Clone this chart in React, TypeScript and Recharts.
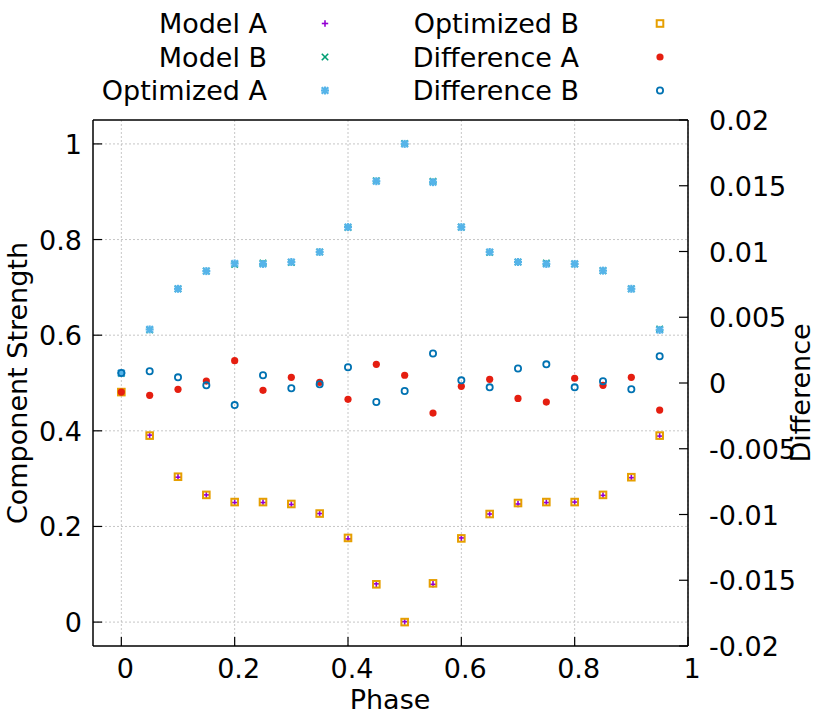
import React from 'react';
import { ComposedChart, Scatter, XAxis, YAxis, CartesianGrid, ReferenceLine } from 'recharts';

const phase = [0, 0.05, 0.1, 0.15, 0.2, 0.25, 0.3, 0.35, 0.4, 0.45, 0.5, 0.55, 0.6, 0.65, 0.7, 0.75, 0.8, 0.85, 0.9, 0.95];

const modelA = [0.48, 0.391, 0.303, 0.266, 0.25, 0.25, 0.246, 0.227, 0.174, 0.08, 0.001, 0.079, 0.176, 0.226, 0.247, 0.25, 0.251, 0.265, 0.302, 0.389];
const modelB = [0.52, 0.611, 0.697, 0.734, 0.748, 0.751, 0.752, 0.774, 0.825, 0.923, 1.001, 0.922, 0.826, 0.773, 0.753, 0.751, 0.749, 0.735, 0.697, 0.613];
const optimizedA = [0.521, 0.612, 0.697, 0.734, 0.75, 0.749, 0.753, 0.774, 0.826, 0.922, 1.0, 0.92, 0.826, 0.774, 0.753, 0.749, 0.749, 0.735, 0.697, 0.611];
const optimizedB = [0.481, 0.39, 0.304, 0.266, 0.251, 0.251, 0.247, 0.227, 0.176, 0.079, 0.0, 0.081, 0.175, 0.226, 0.249, 0.251, 0.251, 0.266, 0.303, 0.39];
const differenceA = [-0.00069, -0.00094, -0.00048, 0.00015, 0.0017, -0.00056, 0.00043, 0.00005, -0.00124, 0.00142, 0.00059, -0.00229, -0.00025, 0.00028, -0.00117, -0.00145, 0.00036, -0.00018, 0.00043, -0.00206];
const differenceB = [0.00076, 0.00089, 0.00043, -0.00018, -0.00168, 0.00059, -0.0004, -0.0001, 0.0012, -0.00145, -0.00061, 0.00224, 0.0002, -0.00033, 0.0011, 0.00142, -0.00033, 0.00013, -0.00048, 0.00203];

const xTicks = [0, 0.2, 0.4, 0.6, 0.8, 1];
const leftTicks = [0, 0.2, 0.4, 0.6, 0.8, 1];
const rightTicks = [-0.02, -0.015, -0.01, -0.005, 0, 0.005, 0.01, 0.015, 0.02];

const FONT = '"DejaVu Sans", sans-serif';
const FS = 27;

// plot box
const LEFT = 93;
const RIGHT = 688;
const TOP = 120;
const BOTTOM = 646;

type Marker = (cx: number, cy: number) => React.ReactElement;

const plus: Marker = (cx, cy) => (
  <g stroke="#9400d3" strokeWidth={1.6}>
    <line x1={cx - 3.2} y1={cy} x2={cx + 3.2} y2={cy} />
    <line x1={cx} y1={cy - 3.2} x2={cx} y2={cy + 3.2} />
  </g>
);
const cross: Marker = (cx, cy) => (
  <g stroke="#009e73" strokeWidth={1.6}>
    <line x1={cx - 3.2} y1={cy - 3.2} x2={cx + 3.2} y2={cy + 3.2} />
    <line x1={cx - 3.2} y1={cy + 3.2} x2={cx + 3.2} y2={cy - 3.2} />
  </g>
);
const star: Marker = (cx, cy) => (
  <g stroke="#56b4e9" strokeWidth={2.2}>
    <line x1={cx - 4} y1={cy} x2={cx + 4} y2={cy} />
    <line x1={cx} y1={cy - 4} x2={cx} y2={cy + 4} />
    <line x1={cx - 3.3} y1={cy - 3.3} x2={cx + 3.3} y2={cy + 3.3} />
    <line x1={cx - 3.3} y1={cy + 3.3} x2={cx + 3.3} y2={cy - 3.3} />
  </g>
);
const square: Marker = (cx, cy) => (
  <rect x={cx - 3.3} y={cy - 3.3} width={6.6} height={6.6} fill="none" stroke="#e69f00" strokeWidth={2} />
);
const dot: Marker = (cx, cy) => <circle cx={cx} cy={cy} r={3.6} fill="#e51e10" />;
const ring: Marker = (cx, cy) => (
  <circle cx={cx} cy={cy} r={3.1} fill="none" stroke="#0072b2" strokeWidth={1.8} />
);

const series = [
  { name: 'Model A', values: modelA, axis: 'left', marker: plus },
  { name: 'Model B', values: modelB, axis: 'left', marker: cross },
  { name: 'Optimized A', values: optimizedA, axis: 'left', marker: star },
  { name: 'Optimized B', values: optimizedB, axis: 'left', marker: square },
  { name: 'Difference A', values: differenceA, axis: 'right', marker: dot },
  { name: 'Difference B', values: differenceB, axis: 'right', marker: ring },
];

const XTick = (props: any) => {
  const { x, payload } = props;
  return (
    <g>
      <line x1={x} y1={BOTTOM} x2={x} y2={BOTTOM - 9} stroke="#000" strokeWidth={1.2} />
      <text x={x + 4} y={678} textAnchor="middle" fontFamily={FONT} fontSize={FS} fill="#000">
        {String(payload.value)}
      </text>
    </g>
  );
};

const LeftTick = (props: any) => {
  const { y, payload } = props;
  return (
    <g>
      <line x1={LEFT} y1={y} x2={LEFT + 9} y2={y} stroke="#000" strokeWidth={1.2} />
      <text x={82} y={y + 10} textAnchor="end" fontFamily={FONT} fontSize={FS} fill="#000">
        {String(payload.value)}
      </text>
    </g>
  );
};

const RightTick = (props: any) => {
  const { y, payload } = props;
  return (
    <g>
      <line x1={RIGHT} y1={y} x2={RIGHT - 9} y2={y} stroke="#000" strokeWidth={1.2} />
      <text x={709} y={y + 10} textAnchor="start" fontFamily={FONT} fontSize={FS} fill="#000">
        {String(payload.value)}
      </text>
    </g>
  );
};

function Legend() {
  const rows = [
    { baseline: 33, col: 0 },
    { baseline: 66.5, col: 0 },
    { baseline: 100, col: 0 },
  ];
  const cols = [
    { textRight: 267, markerX: 325 },
    { textRight: 579, markerX: 660 },
  ];
  return (
    <svg width={830} height={115} style={{ position: 'absolute', left: 0, top: 0 }}>
      {series.map((s, i) => {
        const c = cols[Math.floor(i / 3)];
        const r = rows[i % 3];
        return (
          <g key={s.name}>
            <text x={c.textRight} y={r.baseline} textAnchor="end" fontFamily={FONT} fontSize={FS} fill="#000">
              {s.name}
            </text>
            {s.marker(c.markerX, r.baseline - 9.5)}
          </g>
        );
      })}
    </svg>
  );
}

export default function App() {
  return (
    <div style={{ position: 'absolute', left: 0, top: 0, width: 830, height: 716, background: '#fff' }}>
      <ComposedChart
        width={830}
        height={716}
        margin={{ top: TOP, right: 0, bottom: 0, left: 0 }}
      >
        <CartesianGrid
          yAxisId="left"
          stroke="#b8b8b8"
          strokeWidth={0.8}
          strokeDasharray="2 2"
          horizontalValues={leftTicks}
          verticalValues={xTicks}
        />
        <XAxis
          type="number"
          dataKey="x"
          domain={[-0.05, 1]}
          ticks={xTicks}
          allowDataOverflow
          height={716 - BOTTOM}
          interval={0}
          tickLine={false}
          axisLine={{ stroke: '#000', strokeWidth: 1.5 }}
          tick={<XTick />}
          label={() => (
            <text x={390} y={709} textAnchor="middle" fontFamily={FONT} fontSize={FS} fill="#000">
              Phase
            </text>
          )}
        />
        <YAxis
          yAxisId="left"
          type="number"
          dataKey="y"
          domain={[-0.05, 1.05]}
          ticks={leftTicks}
          allowDataOverflow
          width={LEFT}
          interval={0}
          tickLine={false}
          axisLine={{ stroke: '#000', strokeWidth: 1.5 }}
          tick={<LeftTick />}
          label={() => (
            <text
              x={17}
              y={383}
              transform="rotate(-90 17 383)"
              textAnchor="middle"
              dominantBaseline="central"
              fontFamily={FONT}
              fontSize={FS}
              fill="#000"
            >
              Component Strength
            </text>
          )}
        />
        <YAxis
          yAxisId="right"
          orientation="right"
          type="number"
          dataKey="y"
          domain={[-0.02, 0.02]}
          ticks={rightTicks}
          allowDataOverflow
          width={830 - RIGHT}
          interval={0}
          tickLine={false}
          axisLine={{ stroke: '#000', strokeWidth: 1.5 }}
          tick={<RightTick />}
          label={() => (
            <text
              x={800}
              y={393}
              transform="rotate(-90 800 393)"
              textAnchor="middle"
              dominantBaseline="central"
              fontFamily={FONT}
              fontSize={FS}
              fill="#000"
            >
              Difference
            </text>
          )}
        />
        <ReferenceLine yAxisId="left" y={1.05} stroke="#000" strokeWidth={1.5} ifOverflow="extendDomain" />
        {series.map((s) => (
          <Scatter
            key={s.name}
            name={s.name}
            yAxisId={s.axis}
            data={phase.map((p, i) => ({ x: p, y: s.values[i] }))}
            dataKey="y"
            isAnimationActive={false}
            shape={(props: any) => s.marker(props.cx, props.cy)}
          />
        ))}
      </ComposedChart>
      <Legend />
    </div>
  );
}
